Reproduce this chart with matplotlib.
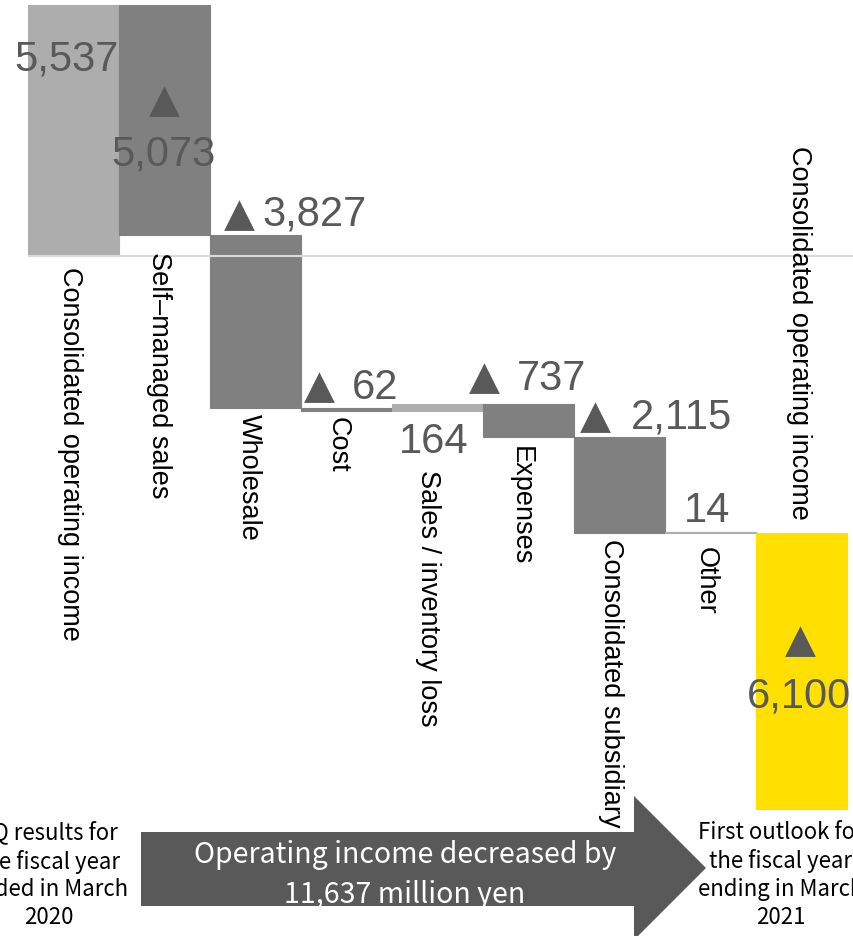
import numpy as np
import matplotlib.pyplot as plt
from matplotlib.patches import Polygon

# operating income bridge, million yen
categories = ['Consolidated operating income', 'Self–managed sales', 'Wholesale', 'Cost',
              'Sales / inventory loss', 'Expenses', 'Consolidated subsidiary', 'Other',
              'Consolidated operating income']
start_value = 5537
changes = [-5073, -3827, -62, 164, -737, -2115, 14]
end_value = -6100

left_caption = '1Q results for\nthe fiscal year\nended in March\n2020'
right_caption = 'First outlook for\nthe fiscal year\nending in March\n2021'

W, H = 854, 937
fig = plt.figure(figsize=(W / 100, H / 100), dpi=100)
ax = fig.add_axes([28 / W, 0, 1 - 28 / W, 1])

# waterfall geometry
levels = start_value + np.concatenate([[0], np.cumsum(changes)])
bottoms = [0] + list(levels[:-1]) + [end_value]
heights = [start_value] + changes + [end_value]
colors = ['#ADADAD'] + ['#808080' if c < 0 else '#ADADAD' for c in changes] + ['#FFE000']
x = np.arange(len(categories))

ax.bar(x, heights, bottom=bottoms, width=1.0, color=colors, edgecolor=colors,
       linewidth=0.8, zorder=2)
ax.axhline(0, color='#D9D9D9', lw=1.5, zorder=3)

# scale: 5537 units ~ 251 px, zero line 257 px from the top
ppu = 251 / start_value
ax.set_xlim(-0.5, -0.5 + (W - 28) / 91)
ax.set_ylim(-(H - 257) / ppu, 257 / ppu)
ax.axis('off')

font = ['Liberation Sans', 'DejaVu Sans']
values = [start_value] + changes + [end_value]
tops = [max(b, b + h) for b, h in zip(bottoms, heights)]
lows = [min(b, b + h) for b, h in zip(bottoms, heights)]

# label centres in pixels, relative to bar centre / bar top (up = +)
num_off = [(-7.5, -50), (-1.5, -145), (59, 25), (28.5, 25.5), (-3.5, -33),
           (23.5, 30), (62, 25), (-3.5, 26.5), (-2.5, -158.5)]
tri_off = [None, (-0.5, -91), (-16, 25), (-27.5, 26.5), None,
           (-44.5, 31), (-24, 25), None, (-1.5, -103.5)]
half_digit = 15  # baseline sits this far below the digit centre

for i, v in enumerate(values):
    dx, dy = num_off[i]
    ax.annotate(f'{abs(v):,}', (i, tops[i]), xytext=(dx, dy - half_digit),
                textcoords='offset pixels', ha='center', va='baseline',
                fontsize=30, color='#595959', family=font, zorder=4)
    if v < 0:
        tx, ty = tri_off[i]
        ax.annotate('▲', (i, tops[i]), xytext=(tx, ty - half_digit),
                    textcoords='offset pixels', ha='center', va='baseline',
                    fontsize=29, color='#595959', family='DejaVu Sans', zorder=4)

# category labels, read top to bottom
cat_off = [(-4, -10), (-5, -16), (-7, -5), (-9, -5), (-9, -58), (-8, -8), (-8, -5), (-5, -13)]
for i, name in enumerate(categories[:-1]):
    ax.annotate(name, (i, lows[i]), xytext=cat_off[i], textcoords='offset pixels',
                rotation=270, ha='center', va='top', fontsize=19.5, color='black',
                family=font, zorder=4)
ax.annotate(categories[-1], (8, tops[-1]), xytext=(-2, 14), textcoords='offset pixels',
            rotation=270, ha='center', va='bottom', fontsize=19.5, color='black',
            family=font, zorder=4)

# summary arrow along the bottom
def fx(px):
    return px / W

def fy(py):
    return 1 - py / H

arrow = [(141, 833), (634, 833), (634, 797), (706, 869), (634, 941), (634, 907), (141, 907)]
fig.patches.append(Polygon([(fx(a), fy(b)) for a, b in arrow], closed=True,
                           facecolor='#595959', edgecolor='none',
                           transform=fig.transFigure))

total_drop = start_value - end_value
cap_font = ['Noto Sans CJK JP', 'DejaVu Sans']
fig.text(fx(405), fy(875), f'Operating income decreased by\n{total_drop:,} million yen',
         ha='center', va='center', color='white', fontsize=20.5, family=cap_font,
         linespacing=1.4)
fig.text(fx(49), fy(875), left_caption, ha='center', va='center', fontsize=16,
         family=cap_font, linespacing=1.27)
fig.text(fx(781), fy(875), right_caption, ha='center', va='center', fontsize=16,
         family=cap_font, linespacing=1.27)

fig.savefig('out.png', dpi=100)
